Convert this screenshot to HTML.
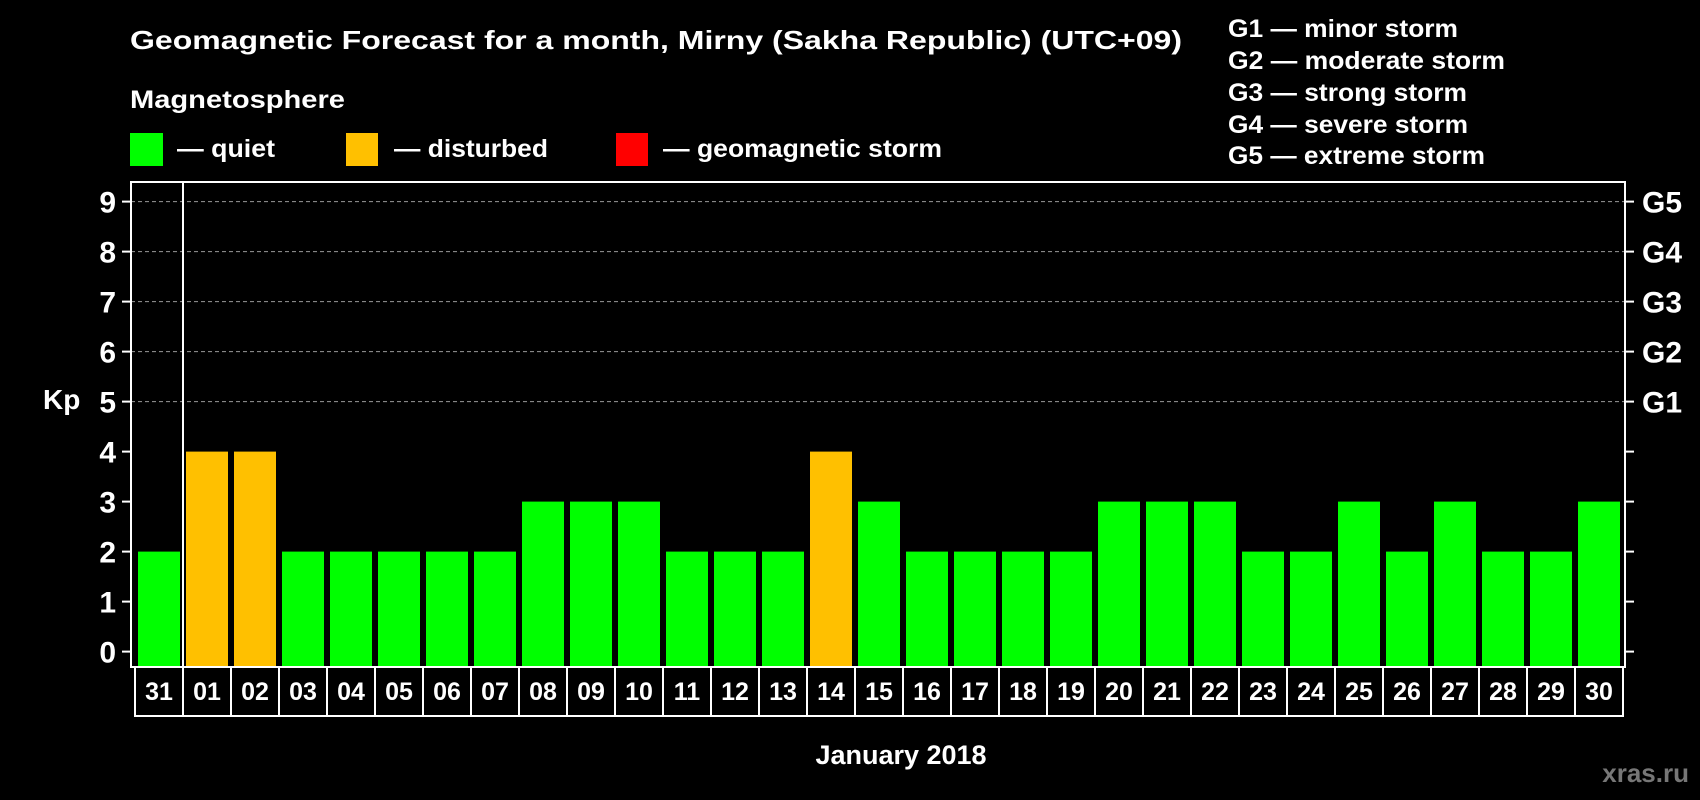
<!DOCTYPE html>
<html><head><meta charset="utf-8"><style>
html,body{margin:0;padding:0;background:#000;}
svg{display:block;font-family:"Liberation Sans",Arial,sans-serif;font-weight:bold;}
</style></head><body>
<svg id="chart" width="1700" height="800" viewBox="0 0 1700 800">
<rect width="1700" height="800" fill="#000"/>
<text x="130" y="49" font-size="26" fill="#fff" textLength="1052" lengthAdjust="spacingAndGlyphs">Geomagnetic Forecast for a month, Mirny (Sakha Republic) (UTC+09)</text>
<text x="130" y="108" font-size="25" fill="#fff" textLength="215" lengthAdjust="spacingAndGlyphs">Magnetosphere</text>
<g><rect x="130" y="133" width="33" height="33" fill="#00ff00"/><text x="177" y="157" font-size="25" fill="#fff" textLength="98" lengthAdjust="spacingAndGlyphs">— quiet</text></g>
<g><rect x="346" y="133" width="32" height="33" fill="#ffc000"/><text x="394" y="157" font-size="25" fill="#fff" textLength="154" lengthAdjust="spacingAndGlyphs">— disturbed</text></g>
<g><rect x="616" y="133" width="32" height="33" fill="#ff0000"/><text x="663" y="157" font-size="25" fill="#fff" textLength="279" lengthAdjust="spacingAndGlyphs">— geomagnetic storm</text></g>
<g font-size="25" fill="#fff">
<text x="1228" y="37" textLength="230" lengthAdjust="spacingAndGlyphs">G1 — minor storm</text>
<text x="1228" y="69" textLength="277" lengthAdjust="spacingAndGlyphs">G2 — moderate storm</text>
<text x="1228" y="101" textLength="239" lengthAdjust="spacingAndGlyphs">G3 — strong storm</text>
<text x="1228" y="133" textLength="240" lengthAdjust="spacingAndGlyphs">G4 — severe storm</text>
<text x="1228" y="164" textLength="257" lengthAdjust="spacingAndGlyphs">G5 — extreme storm</text>
</g>
<g id="plot"></g>
<text x="43" y="409" font-size="28" fill="#fff">Kp</text>
<text x="901" y="764" font-size="27" fill="#fff" text-anchor="middle">January 2018</text>
<text x="1689" y="782" font-size="26" fill="#777" text-anchor="end">xras.ru</text>
</svg>
<script>
const days=["31","01","02","03","04","05","06","07","08","09","10","11","12","13","14","15","16","17","18","19","20","21","22","23","24","25","26","27","28","29","30"];
const kp=[2,4,4,2,2,2,2,2,3,3,3,2,2,2,4,3,2,2,2,2,3,3,3,2,2,3,2,3,2,2,3];
const yTicks=[0,1,2,3,4,5,6,7,8,9];
const gLabels=["G1","G2","G3","G4","G5"];
const gLevels=[5,6,7,8,9];
const NS="http://www.w3.org/2000/svg";
const g=document.getElementById('plot');
const X0=135,SLOT=48,BW=42,Y0=651.6,UNIT=50;
const L=131,R=1625,T=182,B=667;
function y(v){return Y0-v*UNIT;}
function x(i){return X0+i*SLOT;}
function mk(t,a,p){const e=document.createElementNS(NS,t);for(const k in a)e.setAttribute(k,a[k]);(p||g).appendChild(e);return e;}
gLevels.forEach(v=>{
 const l=mk('line',{x1:L,x2:R,y1:y(v),y2:y(v),stroke:'#999','stroke-width':1,'stroke-dasharray':'4,3'});
 
 
});
kp.forEach((v,i)=>{
 const c=v>=5?'#ff0000':(v>=4?'#ffc000':'#00ff00');
 const r=mk('rect',{x:x(i)+3,y:y(v),width:BW,height:B-y(v),fill:c});
 
 
});
const fr=mk('rect',{x:L,y:T,width:R-L,height:B-T,fill:'none',stroke:'#fff','stroke-width':2});


const sep=mk('line',{x1:x(1),x2:x(1),y1:T,y2:B,stroke:'#fff','stroke-width':2});


yTicks.forEach(v=>{
 mk('line',{x1:L-9,x2:L,y1:y(v),y2:y(v),stroke:'#fff','stroke-width':2});
 mk('line',{x1:R,x2:R+9,y1:y(v),y2:y(v),stroke:'#fff','stroke-width':2});
 const t=mk('text',{x:116,y:y(v)+11,'font-size':30,fill:'#fff','text-anchor':'end'});
 t.textContent=v;
 
 
});
gLabels.forEach((s,i)=>{
 const t=mk('text',{x:1642,y:y(gLevels[i])+11,'font-size':30,fill:'#fff'});
 t.textContent=s;
 
 
});
days.forEach((d,i)=>{
 const r=mk('rect',{x:x(i),y:B,width:SLOT,height:49,fill:'none',stroke:'#fff','stroke-width':2});
 
 
 const t=mk('text',{x:x(i)+SLOT/2,y:B+33,'font-size':25,fill:'#fff','text-anchor':'middle'});
 t.textContent=d;
 
 
});
</script>
</body></html>
